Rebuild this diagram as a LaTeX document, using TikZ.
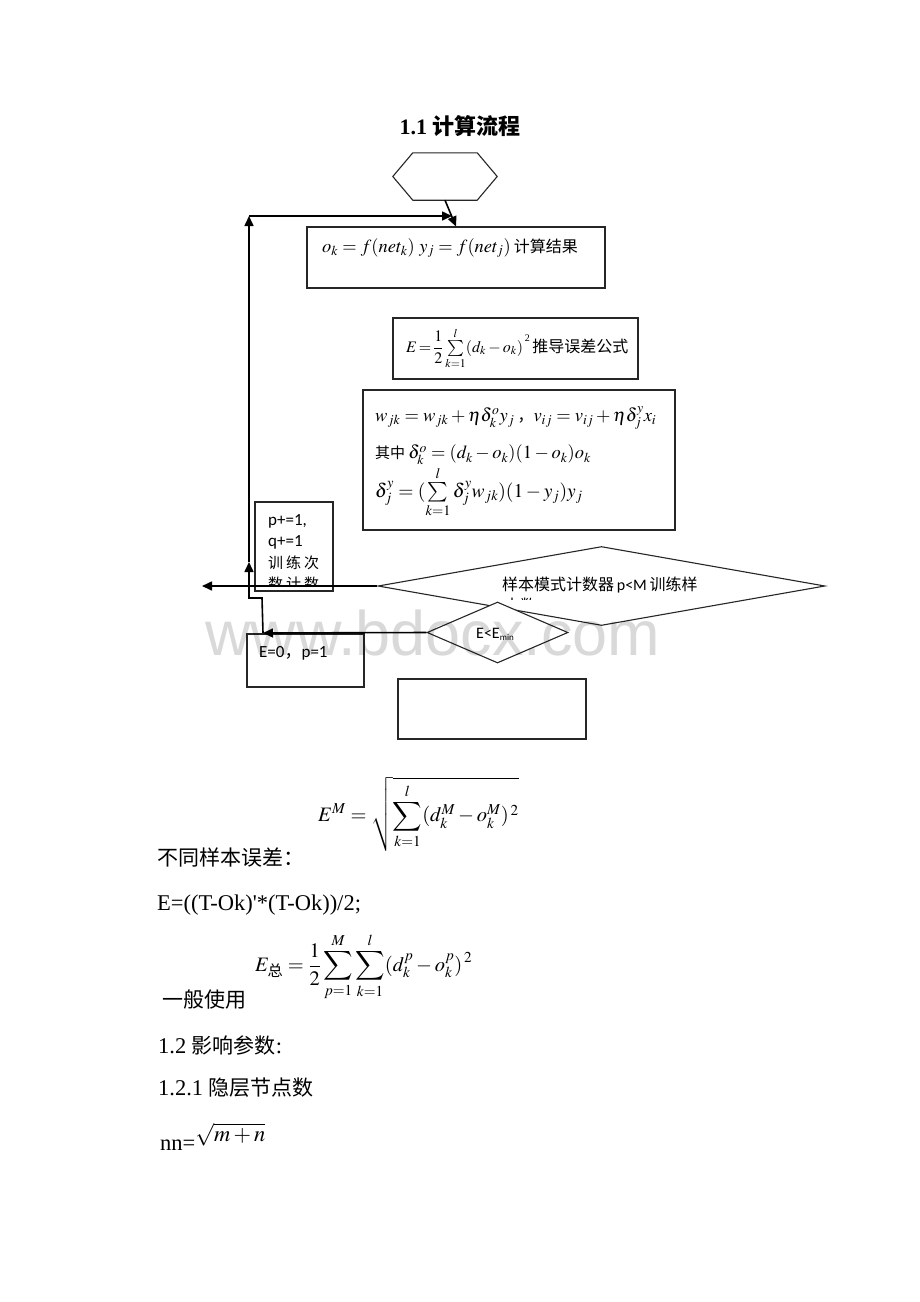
\documentclass[tikz,border=0pt]{standalone}
\usepackage{amsmath}
\usepackage{mathptmx}
\DeclareFontFamily{OMX}{cmex}{}
\DeclareFontShape{OMX}{cmex}{m}{n}{<->cmex10}{}
\DeclareSymbolFont{largesymbols}{OMX}{cmex}{m}{n}
\usepackage[no-math]{fontspec}
\setmainfont{Liberation Serif}
\newfontfamily\cjk{Noto Sans CJK SC}
\newfontfamily\carl{Carlito}
\newfontfamily\wmfont{Liberation Sans}
\usetikzlibrary{arrows.meta,shapes.geometric}
\begin{document}
\begin{tikzpicture}[x=1pt,y=-1pt,
  box/.style={draw=black!85,line width=1.1pt,inner sep=0pt,rectangle},
  dia/.style={diamond,draw=black!85,line width=1.1pt,inner sep=0pt,fill=white},
  arr/.style={line width=1.6pt,-{Triangle[length=10pt,width=9pt]}},
  txt/.style={anchor=west,inner sep=0pt}]
\useasboundingbox[fill=white] (0,0) rectangle (920,1302);

% title
\node (title) at (460,126) {\fontsize{22}{26}\selectfont\bfseries 1.1 {\cjk 计算流程}};

% hexagon
\node[minimum width=104,minimum height=47,inner sep=0pt] (hex) at (445,176.5) {};
\draw[draw=black!85,line width=1.1pt] (hex.west) -- ([xshift=20]hex.north west) -- ([xshift=-20]hex.north east) -- (hex.east) -- ([xshift=-20]hex.south east) -- ([xshift=20]hex.south west) -- cycle;

% boxes
\node[box,minimum width=298,minimum height=61] (box1) at (456,257.5) {};
\node[txt] (t1) at (322,248) {\fontsize{18.5}{22}\selectfont $o_k = f(net_k)\ y_j = f(net_j)$\,{\cjk\fontsize{16}{19}\selectfont 计算结果}};

\node[box,minimum width=245,minimum height=61] (box2) at (515.5,348.5) {};
\node[txt] (t2) at (406,348) {\fontsize{16}{19}\selectfont $E\!=\!\dfrac{1}{2}\sum\limits_{k=1}^{l}(d_k-o_k)$\raisebox{11pt}{\fontsize{10}{10}\selectfont\,2}\,{\cjk\fontsize{16}{19}\selectfont 推导误差公式}};

\node[box,minimum width=312,minimum height=140] (box3) at (519,460) {};
\node[txt] (t3a) at (375,418) {\fontsize{18.5}{22}\selectfont $w_{jk}=w_{jk}+\eta\delta_k^o y_j$\,{\cjk\fontsize{16}{19}\selectfont ，}$v_{ij}=v_{ij}+\eta\delta_j^y x_i$};
\node[txt] (t3b) at (375,455) {\fontsize{18.5}{22}\selectfont {\cjk\fontsize{15}{18}\selectfont 其中}\,$\delta_k^o=(d_k-o_k)(1-o_k)o_k$};
\node[txt] (t3c) at (375,492) {\fontsize{19.5}{23}\selectfont $\delta_j^y=(\sum\limits_{k=1}^{l}\delta_j^y w_{jk})(1-y_j)y_j$};

% p+=1 box
\node[box,minimum width=78,minimum height=89] (pbox) at (294,546.5) {};
\node[txt] (p1) at (268,521) {\carl\fontsize{17}{20}\selectfont p+=1,};
\node[txt] (p2) at (268,542) {\carl\fontsize{17}{20}\selectfont q+=1};
\node[txt] (p3) at (268,563) {\cjk\fontsize{15}{18}\selectfont 训\hspace{3pt}练\hspace{3pt}次};
\begin{scope}
\clip (255,570) rectangle (333,586);
\node[txt] (p4) at (268,584) {\cjk\fontsize{15}{18}\selectfont 数\hspace{3pt}计\hspace{3pt}数};
\end{scope}

% big diamond
\node[dia,minimum width=447,minimum height=79] (bigd) at (601.5,586) {};
\node[txt] (dt1) at (502,585) {\fontsize{16}{19}\selectfont{\cjk 样本模式计数器}\,{\carl p<M}\,{\cjk 训练样}};
\begin{scope}
\clip (495,590) rectangle (545,599);
\node[txt] (dt2) at (504,605) {\cjk\fontsize{16}{19}\selectfont 本数};
\end{scope}

% E<Emin diamond
\node[dia,minimum width=141,minimum height=61] (emin) at (497.5,632.5) {};
\node (et) at (495,634) {\carl\fontsize{16}{19}\selectfont E<E\raisebox{-2pt}{\fontsize{9}{10}\selectfont min}};

% E=0 box
\node[box,minimum width=117,minimum height=53] (ebox) at (305.5,660.5) {};
\node[txt] (eb) at (259,653) {\fontsize{17}{20}\selectfont{\carl E=0}{\cjk ，}{\carl p=1}};

% empty box
\node[box,minimum width=188,minimum height=60] (endbox) at (492,709) {};

% connectors
\coordinate (exitL) at (202,586);
\coordinate (c1) at (263,633);
\coordinate (c2) at (262,598);
\coordinate (c3) at (249,598);
\coordinate (c4) at (249,562);
\coordinate (c5) at (249,216);
\coordinate (c6) at (452,216);
\draw[arr] (hex.south) -- (box1.north);
\draw[arr] (bigd.west) -- (exitL);
\draw[arr] (emin.west) -- (c1);
\draw[arr] (c1) -- (c2) -- (c3) -- (c4);
\draw[arr] (c4) -- (c5);
\draw[arr] (c5) -- (c6);

% lower text
\node[txt] (em) at (318,814) {\fontsize{20.5}{24}\selectfont $\displaystyle E^M=\sqrt{\sum_{k=1}^{l}(d_k^M-o_k^M)^{\,2}}$};
\node[txt] (b1) at (157,858) {\fontsize{21}{24}\selectfont\cjk 不同样本误差：};
\node[txt] (b2) at (157,905) {\fontsize{22.5}{26}\selectfont E=((T-Ok)\textquotesingle*(T-Ok))/2;};
\node[txt] (etot) at (255,967) {\fontsize{20.5}{24}\selectfont $\displaystyle E_{\text{\cjk 总}}=\frac{1}{2}\sum_{p=1}^{M}\sum_{k=1}^{l}(d_k^p-o_k^p)^{\,2}$};
\node[txt] (b3) at (162,1000) {\fontsize{21}{24}\selectfont\cjk 一般使用};
\node[txt] (b4) at (158,1045) {\fontsize{22.5}{26}\selectfont 1.2 {\cjk\fontsize{21}{24}\selectfont 影响参数}:};
\node[txt] (b5) at (158,1088) {\fontsize{22.5}{26}\selectfont 1.2.1 {\cjk\fontsize{21}{24}\selectfont 隐层节点数}};
\node[txt] (nn) at (160,1137) {\fontsize{22.5}{26}\selectfont nn=\raisebox{9pt}{$\sqrt{m+n}$}};

% watermark
\node[anchor=base west,inner sep=0pt,text=black,text opacity=0.15] (wm) at (205,655) {\wmfont\fontsize{63}{70}\selectfont www.bdocx.com};
\end{tikzpicture}
\end{document}
